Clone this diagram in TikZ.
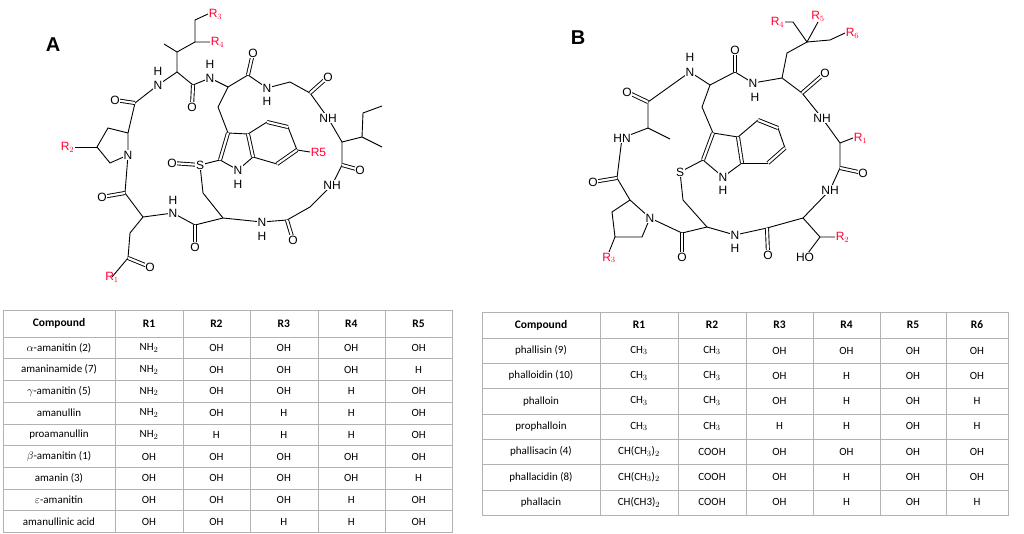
\documentclass[tikz,border=0pt]{standalone}
\usepackage{fontspec}
\setmainfont{Liberation Sans}
\newfontfamily\tabfont{Carlito}
\begin{document}
\begin{tikzpicture}[x=1pt,y=-1pt,
  bond/.style={line width=0.9pt,black},
  dbl/.style={line width=0.9pt,double,double distance=2.2pt},
  atom/.style={fill=white,inner sep=0.6pt,font=\fontsize{12}{12}\selectfont},
  rg/.style={inner sep=0.6pt,text=red!80!magenta,font=\fontsize{12}{12}\selectfont},
  cell/.style={font=\tabfont\fontsize{11}{11}\selectfont},
  hcell/.style={font=\tabfont\bfseries\fontsize{11.5}{11.5}\selectfont},
  grid/.style={draw=gray!60,line width=0.6pt}]
\useasboundingbox (0,0) rectangle (1024,533);
\newcommand{\C}[2]{\coordinate (#1) at (#2);}
% ---------- structure A ----------
\node[font=\bfseries\fontsize{20}{20}\selectfont] (labA) at (53,45) {A};
\C{a1}{177,72}\C{a2}{177,52}\C{me1}{164,44}\C{a3}{195,42}\C{r4b}{210,42}
\C{a4}{195,20}\C{r3b}{208,14}
\C{N1}{158,85}\C{c1}{135,103}\C{o1}{115,100}
\C{c2}{193,85}\C{o2}{192,107}\C{N2}{210,78}\C{ta}{228,87}
\C{c3}{248,75}\C{o3}{253,53}\C{N3}{267,88}\C{g1}{290,82}
\C{c4}{310,93}\C{o4}{328,77}\C{N4}{328,118}\C{ia}{342,142}
\C{ib}{362,137}\C{ic}{363,113}\C{id}{382,106}\C{ie}{382,147}
\C{c5}{342,165}\C{o5}{360,170}\C{N5}{332,185}\C{g2}{310,207}
\C{c6}{287,220}\C{o6}{293,240}\C{N6}{262,222}\C{ca}{223,218}
\C{cb}{203,193}\C{S}{200,165}\C{oS}{172,163}
\C{c7}{195,225}\C{o7}{195,247}\C{N7}{173,213}
\C{na}{143,217}\C{nb}{130,233}\C{nc}{128,258}\C{on}{150,267}\C{R1}{112,277}
\C{c8}{125,193}\C{o8}{102,197}\C{Np}{128,155}
\C{pa}{128,133}\C{pb}{108,128}\C{pc}{97,147}\C{pd}{110,163}\C{r2b}{75,147}
\C{tb}{218,107}\C{C3}{228,133}\C{C2}{220,160}\C{NI}{238,170}
\C{C7a}{253,157}\C{C3a}{248,134}\C{C4}{267,122}\C{C5}{288,127}\C{C6}{297,150}\C{C7}{277,164}\C{r5b}{310,152}
\draw[bond] (Np)--(pa)--(c1)--(N1)--(a1)--(c2)--(N2)--(ta)--(c3)--(N3)--(g1)--(c4)--(N4)--(ia)--(c5)--(N5)--(g2)--(c6)--(N6)--(ca)--(c7)--(N7)--(na)--(c8)--(Np);
\draw[bond] (Np)--(pd)--(pc)--(pb)--(pa);
\draw[bond] (pc)--(r2b);
\draw[bond] (me1)--(a2)--(a1); \draw[bond] (a2)--(a3)--(r4b); \draw[bond] (a3)--(a4)--(r3b);
\draw[bond] (ta)--(tb)--(C3); \draw[bond] (ca)--(cb)--(S)--(C2);
\draw[bond] (na)--(nb)--(nc)--(R1);
\draw[bond] (ia)--(ib)--(ic)--(id); \draw[bond] (ib)--(ie);
\draw[bond] (C2)--(NI)--(C7a); \draw[bond] (C3)--(C3a)--(C4); \draw[bond] (C5)--(C6)--(r5b); \draw[bond] (C7)--(C7a);
\draw[dbl] (C2)--(C3); \draw[dbl] (C3a)--(C7a); \draw[dbl] (C4)--(C5); \draw[dbl] (C6)--(C7);
\draw[dbl] (c1)--(o1); \draw[dbl] (c2)--(o2); \draw[dbl] (c3)--(o3); \draw[dbl] (c4)--(o4);
\draw[dbl] (c5)--(o5); \draw[dbl] (c6)--(o6); \draw[dbl] (c7)--(o7); \draw[dbl] (c8)--(o8);
\draw[dbl] (nc)--(on); \draw[dbl] (S)--(oS);
\foreach \p in {o1,o2,o3,o4,o5,o6,o7,o8,on,oS} \node[atom] (t\p) at (\p) {O};
\foreach \p in {N1,N2,N6,N7,Np,NI} \node[atom] (t\p) at (\p) {N};
\node[atom] (tS) at (S) {S};
\node[atom] (tN4) at (N4) {NH}; \node[atom] (tN5) at (N5) {NH};
\node[atom] (hN1) at (158,71) {H}; \node[atom] (hN2) at (210,64) {H};
\node[atom] (tN3) at (N3) {N}; \node[atom] (hN3) at (267,101) {H};
\node[atom] (hN6) at (262,236) {H}; \node[atom] (hN7) at (173,200) {H}; \node[atom] (hNI) at (238,184) {H};
\node[rg] (tR1) at (R1) {R$_1$}; \node[rg,anchor=east] (tR2) at (r2b) {R$_2$};
\node[rg,anchor=west] (tR3) at (r3b) {R$_3$}; \node[rg,anchor=west] (tR4) at (r4b) {R$_4$};
\node[rg,anchor=west] (tR5) at (r5b) {R5};
% ---------- structure B ----------
\node[font=\bfseries\fontsize{20}{20}\selectfont] (labB) at (578,38) {B};
\C{b1}{690,72}\C{bta}{710,85}\C{btb}{702,107}\C{BC3}{713,133}\C{BC2}{703,160}\C{BS}{680,172}
\C{bcb}{683,200}\C{bca}{707,227}\C{BNI}{723,177}\C{BC7a}{742,163}\C{BC3a}{738,137}
\C{BC4}{758,120}\C{BC5}{778,128}\C{BC6}{785,148}\C{BC7}{768,163}
\C{bc1}{735,72}\C{bo1}{735,50}\C{bN2}{753,83}\C{bal}{782,78}\C{bch}{787,53}\C{bcq}{807,42}
\C{br4c}{793,22}\C{br4}{785,22}\C{br5}{818,22}\C{br6c}{830,40}\C{br6}{845,33}
\C{bc2}{802,93}\C{bo2}{825,73}\C{bN3}{822,118}\C{ba3}{840,143}\C{br1}{853,138}
\C{bc3}{840,168}\C{bo3}{863,173}\C{bN4}{830,190}\C{ba4}{803,218}\C{bch2}{820,237}\C{br2}{835,237}\C{bho}{805,257}
\C{bc5}{767,228}\C{bo5}{768,255}\C{bN5}{735,235}\C{bc6}{682,233}\C{bo6}{682,257}
\C{bNp}{650,218}\C{bpa}{630,200}\C{bpb}{612,212}\C{bpc}{615,237}\C{bpd}{642,237}\C{br3}{609,252}
\C{bc7}{617,178}\C{bo7}{593,182}\C{bN6}{622,138}\C{ba6}{648,128}\C{bme}{670,139}
\C{bc8}{648,102}\C{bo8}{627,92}
\draw[bond] (b1)--(bta)--(bc1)--(bN2)--(bal)--(bc2)--(bN3)--(ba3)--(bc3)--(bN4)--(ba4)--(bc5)--(bN5)--(bca)--(bc6)--(bNp)--(bpa)--(bc7)--(bN6)--(ba6)--(bc8)--(b1);
\draw[bond] (bNp)--(bpd)--(bpc)--(bpb)--(bpa); \draw[bond] (bpc)--(br3);
\draw[bond] (bta)--(btb)--(BC3); \draw[bond] (bca)--(bcb)--(BS)--(BC2);
\draw[bond] (BC2)--(BNI)--(BC7a); \draw[bond] (BC3)--(BC3a)--(BC4); \draw[bond] (BC5)--(BC6); \draw[bond] (BC7)--(BC7a);
\draw[dbl] (BC2)--(BC3); \draw[dbl] (BC3a)--(BC7a); \draw[dbl] (BC4)--(BC5); \draw[dbl] (BC6)--(BC7);
\draw[bond] (bal)--(bch)--(bcq)--(br4c)--(br4); \draw[bond] (bcq)--(br5); \draw[bond] (bcq)--(br6c)--(br6);
\draw[bond] (ba3)--(br1); \draw[bond] (ba4)--(bch2)--(br2); \draw[bond] (bch2)--(bho);
\draw[bond] (ba6)--(bme);
\draw[dbl] (bc1)--(bo1); \draw[dbl] (bc2)--(bo2); \draw[dbl] (bc3)--(bo3); \draw[dbl] (bc5)--(bo5);
\draw[dbl] (bc6)--(bo6); \draw[dbl] (bc7)--(bo7); \draw[dbl] (bc8)--(bo8);
\foreach \p in {bo1,bo2,bo3,bo5,bo6,bo7,bo8} \node[atom] (t\p) at (\p) {O};
\foreach \p in {b1,bN2,bN5,bNp,BNI} \node[atom] (t\p) at (\p) {N};
\node[atom] (tBS) at (BS) {S};
\node[atom] (tbN3) at (bN3) {NH}; \node[atom] (tbN4) at (bN4) {NH}; \node[atom] (tbN6) at (bN6) {HN};
\node[atom] (tbho) at (bho) {HO};
\node[atom] (hb1) at (690,57) {H}; \node[atom] (hbN2) at (755,97) {H}; \node[atom] (hbN5) at (735,248) {H}; \node[atom] (hBNI) at (723,190) {H};
\node[rg,anchor=west] (tbR1) at (br1) {R$_1$}; \node[rg,anchor=west] (tbR2) at (br2) {R$_2$};
\node[rg,anchor=north] (tbR3) at (br3) {R$_3$}; \node[rg,anchor=east] (tbR4) at (br4) {R$_4$};
\node[rg,anchor=south] (tbR5) at (br5) {R$_5$}; \node[rg,anchor=west] (tbR6) at (br6) {R$_6$};
% ---------- table A ----------
\def\ya{310}
\draw[grid] (3,310) rectangle (452,532);
\foreach \x in {115,183,250,318,385} \draw[grid] (\x,310)--(\x,532);
\foreach \i in {0,...,8} \draw[grid] (3,{337+21.7*\i})--(452,{337+21.7*\i});
\node[hcell] (ha0) at (59,323.5) {Compound};
\foreach \t [count=\k from 0] in {R1,R2,R3,R4,R5} \node[hcell] (ha\k1) at ({149+67.4*\k},323.5) {\t};
\foreach \n/\a/\b/\c/\d/\e [count=\r from 0] in {%
 $\alpha$-amanitin (2)/NH$_2$/OH/OH/OH/OH,
 amaninamide (7)/NH$_2$/OH/OH/OH/H,
 $\gamma$-amanitin (5)/NH$_2$/OH/OH/H/OH,
 amanullin/NH$_2$/OH/H/H/OH,
 proamanullin/NH$_2$/H/H/H/OH,
 $\beta$-amanitin (1)/OH/OH/OH/OH/OH,
 amanin (3)/OH/OH/OH/OH/H,
 $\varepsilon$-amanitin/OH/OH/OH/H/OH,
 amanullinic acid/OH/OH/H/H/OH}{
 \node[cell] (ra\r) at (59,{348+21.7*\r}) {\n};
 \node[cell] (ra\r a) at (149,{348+21.7*\r}) {\a};
 \node[cell] (ra\r b) at (216.4,{348+21.7*\r}) {\b};
 \node[cell] (ra\r c) at (283.8,{348+21.7*\r}) {\c};
 \node[cell] (ra\r d) at (351.2,{348+21.7*\r}) {\d};
 \node[cell] (ra\r e) at (418.6,{348+21.7*\r}) {\e};}
% ---------- table B ----------
\draw[grid] (482,312) rectangle (1008,515);
\foreach \x in {600,678,746,813,880,946} \draw[grid] (\x,312)--(\x,515);
\foreach \i in {0,...,6} \draw[grid] (482,{338+25.3*\i})--(1008,{338+25.3*\i});
\node[hcell] (hb0) at (541,325) {Compound};
\node[hcell] (hb1c) at (639,325) {R1}; \node[hcell] (hb2c) at (712,325) {R2};
\node[hcell] (hb3c) at (779.5,325) {R3}; \node[hcell] (hb4c) at (846.5,325) {R4};
\node[hcell] (hb5c) at (913,325) {R5}; \node[hcell] (hb6c) at (977,325) {R6};
\foreach \n/\a/\b/\c/\d/\e/\f [count=\r from 0] in {%
 phallisin (9)/CH$_3$/CH$_3$/OH/OH/OH/OH,
 phalloidin (10)/CH$_3$/CH$_3$/OH/H/OH/OH,
 phalloin/CH$_3$/CH$_3$/OH/H/OH/H,
 prophalloin/CH$_3$/CH$_3$/H/H/OH/H,
 phallisacin (4)/CH(CH$_3$)$_2$/COOH/OH/OH/OH/OH,
 phallacidin (8)/CH(CH$_3$)$_2$/COOH/OH/H/OH/OH,
 phallacin/CH(CH3)$_2$/COOH/OH/H/OH/H}{
 \node[cell] (rb\r) at (541,{350.5+25.3*\r}) {\n};
 \node[cell] (rb\r a) at (639,{350.5+25.3*\r}) {\a};
 \node[cell] (rb\r b) at (712,{350.5+25.3*\r}) {\b};
 \node[cell] (rb\r c) at (779.5,{350.5+25.3*\r}) {\c};
 \node[cell] (rb\r d) at (846.5,{350.5+25.3*\r}) {\d};
 \node[cell] (rb\r e) at (913,{350.5+25.3*\r}) {\e};
 \node[cell] (rb\r f) at (977,{350.5+25.3*\r}) {\f};}
\end{tikzpicture}
\end{document}
